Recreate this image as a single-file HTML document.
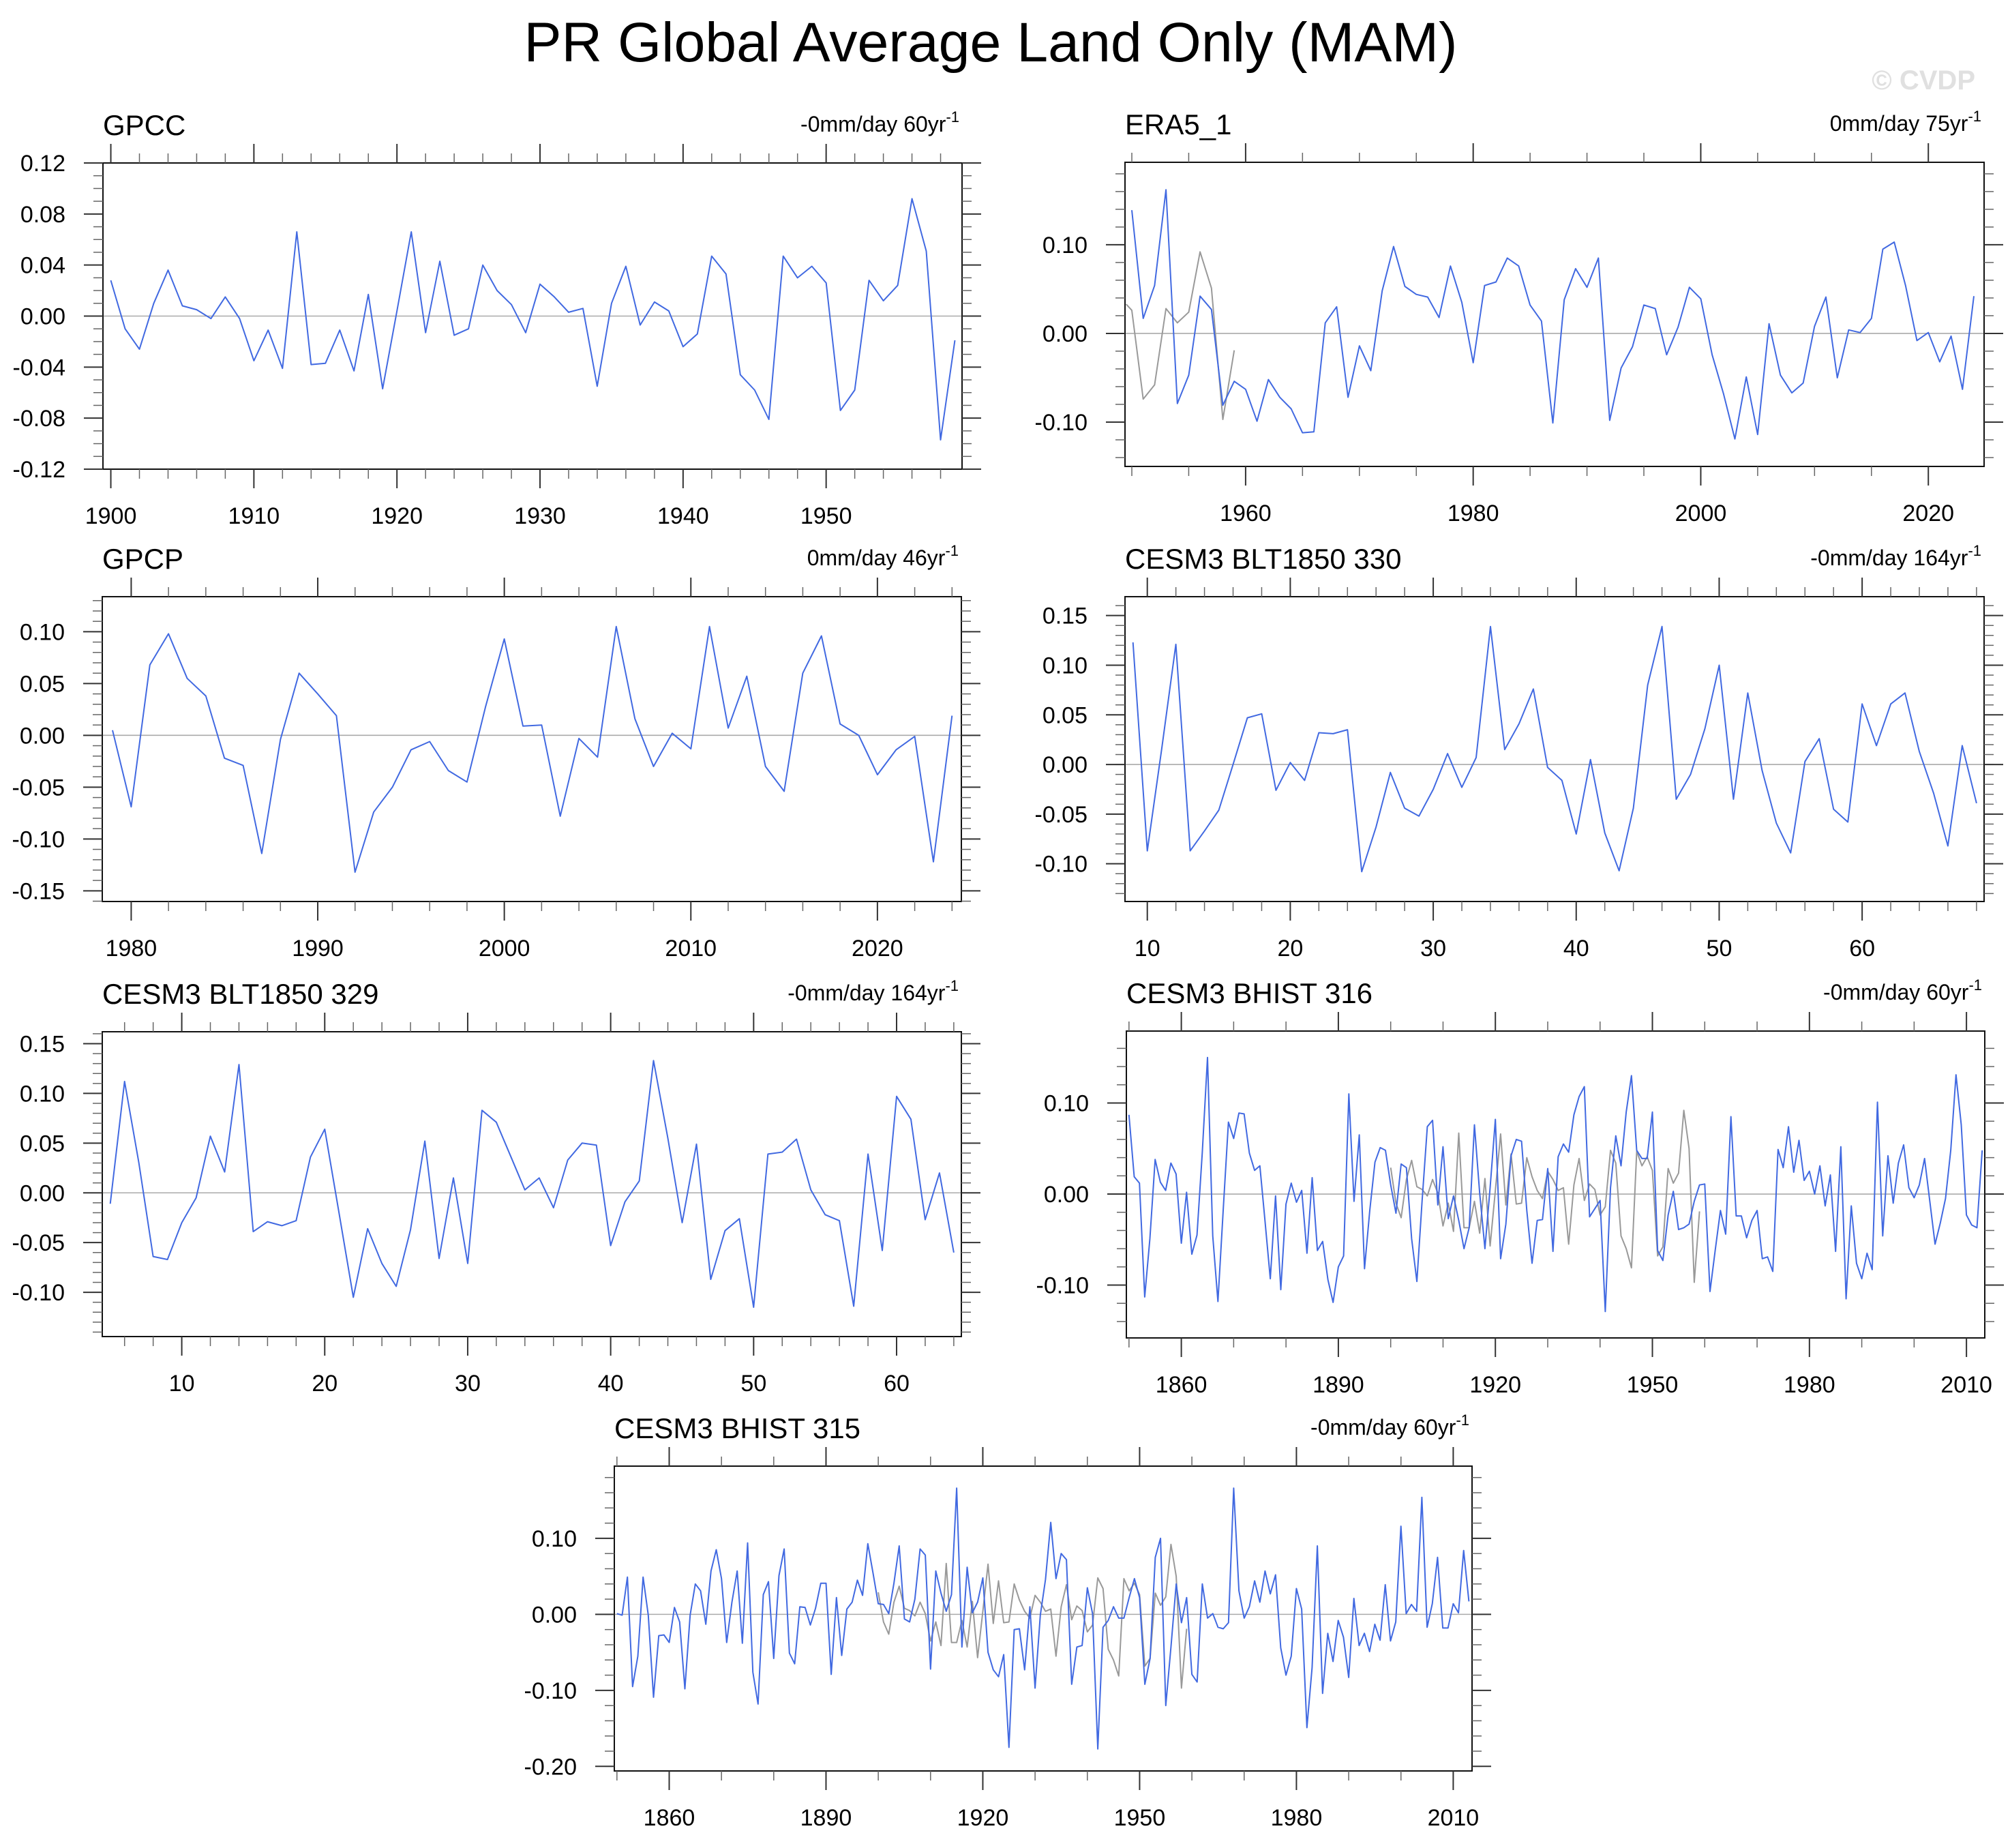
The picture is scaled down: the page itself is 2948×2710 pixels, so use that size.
<!DOCTYPE html>
<html><head><meta charset="utf-8"><style>
html,body{margin:0;padding:0;background:#fff;}
svg{display:block;font-family:"Liberation Sans",Arial,sans-serif;}
</style></head><body>
<svg id="fig" xmlns="http://www.w3.org/2000/svg" width="2948" height="2710" viewBox="0 0 2948 2710">
<rect x="0" y="0" width="2948" height="2710" fill="#fff"/>
<text x="1453" y="90" font-size="82" text-anchor="middle" textLength="1369" lengthAdjust="spacingAndGlyphs">PR Global Average Land Only (MAM)</text>
<text x="2897" y="131" font-size="40" font-weight="bold" fill="#e0e0e0" text-anchor="end">© CVDP</text>
</svg>
<script>
// ---- data ----
const gpccStart = 1900;
const gpccValues = [0.028,-0.010,-0.026,0.010,0.036,0.008,0.005,-0.002,0.015,-0.002,-0.035,-0.011,-0.041,0.066,-0.038,-0.037,-0.011,-0.043,0.017,-0.057,0.004,0.066,-0.013,0.043,-0.015,-0.010,0.040,0.020,0.009,-0.013,0.025,0.015,0.003,0.006,-0.055,0.010,0.039,-0.007,0.011,0.004,-0.024,-0.014,0.047,0.033,-0.046,-0.058,-0.081,0.047,0.030,0.039,0.026,-0.074,-0.058,0.028,0.012,0.024,0.092,0.051,-0.097,-0.019];
const era5Start = 1950;
const era5Values = [0.139,0.017,0.054,0.162,-0.079,-0.047,0.042,0.027,-0.081,-0.054,-0.063,-0.099,-0.052,-0.072,-0.085,-0.112,-0.111,0.012,0.030,-0.072,-0.014,-0.042,0.048,0.098,0.053,0.044,0.041,0.018,0.076,0.035,-0.033,0.054,0.058,0.085,0.076,0.032,0.014,-0.101,0.038,0.073,0.052,0.085,-0.098,-0.039,-0.015,0.032,0.028,-0.024,0.007,0.052,0.039,-0.024,-0.068,-0.119,-0.049,-0.114,0.011,-0.047,-0.067,-0.056,0.008,0.041,-0.050,0.004,0.001,0.017,0.095,0.103,0.054,-0.008,0.001,-0.032,-0.003,-0.063,0.042];
const era5GrayYears = [1949.5,1950,1951,1952,1953,1954,1955,1956,1957,1958,1959];
const era5GrayValues = [0.033,0.026,-0.074,-0.058,0.028,0.012,0.024,0.092,0.051,-0.097,-0.019];
const gpcpStart = 1979;
const gpcpValues = [0.005,-0.069,0.068,0.098,0.055,0.038,-0.022,-0.029,-0.114,-0.004,0.060,0.040,0.019,-0.132,-0.074,-0.050,-0.014,-0.006,-0.034,-0.045,0.028,0.093,0.009,0.010,-0.078,-0.003,-0.021,0.105,0.016,-0.030,0.002,-0.013,0.105,0.007,0.057,-0.030,-0.054,0.060,0.096,0.011,0.000,-0.038,-0.014,-0.001,-0.122,0.019];
const blt330Start = 9;
const blt330Values = [0.123,-0.087,0.015,0.121,-0.087,-0.067,-0.046,0.000,0.047,0.051,-0.026,0.002,-0.016,0.032,0.031,0.035,-0.108,-0.063,-0.008,-0.044,-0.052,-0.025,0.011,-0.023,0.007,0.139,0.015,0.041,0.076,-0.003,-0.016,-0.070,0.005,-0.069,-0.107,-0.044,0.080,0.139,-0.035,-0.010,0.036,0.100,-0.035,0.072,-0.006,-0.059,-0.089,0.003,0.026,-0.045,-0.058,0.061,0.019,0.061,0.072,0.013,-0.029,-0.082,0.019,-0.039];
const blt329Start = 5;
const blt329Values = [-0.011,0.112,0.030,-0.064,-0.067,-0.030,-0.005,0.057,0.021,0.129,-0.039,-0.029,-0.033,-0.028,0.036,0.064,-0.020,-0.105,-0.036,-0.071,-0.094,-0.037,0.052,-0.066,0.015,-0.071,0.083,0.071,0.037,0.003,0.015,-0.015,0.033,0.050,0.048,-0.053,-0.009,0.012,0.133,0.055,-0.030,0.049,-0.087,-0.038,-0.026,-0.115,0.039,0.041,0.054,0.003,-0.022,-0.028,-0.114,0.039,-0.058,0.097,0.074,-0.027,0.020,-0.060];
const bhist316Start = 1850;
const bhist316Values = [0.087,0.019,0.012,-0.113,-0.049,0.038,0.013,0.004,0.034,0.022,-0.054,0.002,-0.066,-0.045,0.045,0.150,-0.046,-0.118,-0.018,0.079,0.061,0.089,0.088,0.045,0.026,0.031,-0.030,-0.093,-0.002,-0.105,-0.011,0.012,-0.009,0.004,-0.065,0.018,-0.062,-0.052,-0.094,-0.119,-0.080,-0.068,0.110,-0.008,0.065,-0.082,-0.018,0.035,0.051,0.048,0.010,-0.021,0.033,0.029,-0.049,-0.096,-0.008,0.074,0.081,-0.012,0.052,-0.027,-0.002,-0.029,-0.060,-0.037,0.076,0.001,-0.060,0.007,0.082,-0.071,-0.033,0.042,0.060,0.058,-0.018,-0.076,-0.029,-0.028,0.028,-0.063,0.041,0.055,0.046,0.087,0.107,0.118,-0.025,-0.016,-0.007,-0.129,0.007,0.064,0.031,0.090,0.130,0.048,0.039,0.039,0.090,-0.062,-0.073,-0.023,0.003,-0.039,-0.037,-0.033,-0.008,0.010,0.011,-0.107,-0.062,-0.018,-0.044,0.085,-0.024,-0.024,-0.048,-0.029,-0.018,-0.071,-0.069,-0.085,0.049,0.029,0.074,0.024,0.059,0.015,0.025,0.000,0.031,-0.013,0.021,-0.063,0.052,-0.115,-0.013,-0.076,-0.093,-0.065,-0.083,0.101,-0.046,0.042,-0.010,0.034,0.054,0.007,-0.004,0.010,0.039,-0.008,-0.055,-0.032,-0.005,0.048,0.131,0.076,-0.023,-0.034,-0.037,0.048];
const bhist315Start = 1850;
const bhist315Values = [0.001,-0.001,0.049,-0.095,-0.055,0.049,-0.001,-0.109,-0.028,-0.027,-0.037,0.009,-0.010,-0.098,-0.001,0.040,0.031,-0.013,0.057,0.085,0.047,-0.037,0.016,0.057,-0.038,0.094,-0.076,-0.118,0.026,0.043,-0.058,0.051,0.086,-0.051,-0.065,0.010,0.009,-0.014,0.008,0.041,0.041,-0.079,0.022,-0.054,0.007,0.016,0.045,0.025,0.093,0.054,0.014,0.013,0.001,0.041,0.090,-0.006,-0.010,0.020,0.086,0.078,-0.072,0.057,0.028,0.004,0.026,0.166,-0.043,0.062,0.002,0.016,0.048,-0.050,-0.073,-0.082,-0.053,-0.175,-0.020,-0.019,-0.073,0.010,-0.097,-0.001,0.046,0.121,0.047,0.080,0.072,-0.092,-0.043,-0.041,0.035,0.001,-0.177,-0.017,-0.008,0.010,-0.005,-0.005,0.022,0.047,0.022,-0.092,-0.058,0.075,0.100,-0.120,-0.043,0.040,-0.011,0.022,-0.079,-0.089,0.040,-0.005,0.001,-0.017,-0.019,-0.011,0.166,0.031,-0.005,0.010,0.044,0.016,0.057,0.027,0.052,-0.044,-0.080,-0.055,0.034,0.007,-0.149,-0.070,0.090,-0.104,-0.025,-0.062,-0.008,-0.030,-0.083,0.021,-0.041,-0.025,-0.049,-0.013,-0.034,0.039,-0.035,-0.010,0.116,0.001,0.013,0.004,0.154,-0.017,0.014,0.075,-0.018,-0.018,0.014,0.002,0.084,0.017];
const obsGrayStart = 1900;
const obsGrayValues = [0.029,-0.010,-0.026,0.016,0.037,0.008,0.005,-0.002,0.016,0.001,-0.035,-0.010,-0.041,0.067,-0.037,-0.037,-0.008,-0.043,0.017,-0.057,0.004,0.066,-0.012,0.044,-0.011,-0.010,0.040,0.019,0.004,-0.005,0.025,0.016,0.004,0.007,-0.055,0.010,0.039,-0.007,0.011,0.005,-0.023,-0.014,0.048,0.034,-0.046,-0.060,-0.081,0.047,0.031,0.041,0.026,-0.068,-0.058,0.028,0.012,0.023,0.092,0.050,-0.097,-0.019];

const NS = 'http://www.w3.org/2000/svg';
const svg = document.getElementById('fig');
function el(tag, attrs, parent){const e=document.createElementNS(NS,tag);for(const k in attrs)e.setAttribute(k,attrs[k]);(parent||svg).appendChild(e);return e;}
function seq(a,b,s){const r=[];for(let v=a;v<=b+1e-9;v+=s)r.push(Math.round(v*1000)/1000);return r;}
function yrs(start,n){const r=[];for(let i=0;i<n;i++)r.push(start+i);return r;}

function panel(c){
  const g=el('g',{});
  
  
  const X=v=>c.L+(v-c.x0)/(c.x1-c.x0)*(c.R-c.L);
  const Y=v=>c.T+(c.y1-v)/(c.y1-c.y0)*(c.B-c.T);
  // zero line
  const z=el('line',{x1:c.L,x2:c.R,y1:Y(0),y2:Y(0),stroke:'#aaa','stroke-width':1.6},g);
  
  
  // series
  (c.series||[]).forEach(s=>{
    const pts=s.x.map((xv,i)=>X(xv).toFixed(1)+','+Y(s.y[i]).toFixed(1)).join(' ');
    const p=el('polyline',{points:pts,fill:'none',stroke:s.color,'stroke-width':s.w,'stroke-linejoin':'round'},g);
    
    
  });
  // frame
  const f=el('rect',{x:c.L,y:c.T,width:c.R-c.L,height:c.B-c.T,fill:'none',stroke:'#111','stroke-width':2},g);
  
  
  // y ticks
  c.yMinor.forEach(v=>{if(v<c.y0||v>c.y1)return;const y=Y(v);
    el('line',{x1:c.L-14,x2:c.L,y1:y,y2:y,stroke:'#666','stroke-width':1.5},g);
    el('line',{x1:c.R,x2:c.R+14,y1:y,y2:y,stroke:'#666','stroke-width':1.5},g);});
  c.yMajor.forEach(v=>{const y=Y(v);
    el('line',{x1:c.L-28,x2:c.L,y1:y,y2:y,stroke:'#333','stroke-width':2},g);
    el('line',{x1:c.R,x2:c.R+28,y1:y,y2:y,stroke:'#333','stroke-width':2},g);
    const t=el('text',{x:c.L-55,y:y+12,'font-size':34,'text-anchor':'end'},g);
    t.textContent=v.toFixed(2);
    
    });
  // x ticks
  c.xMinor.forEach(v=>{if(v<c.x0||v>c.x1)return;const x=X(v);
    el('line',{x1:x,x2:x,y1:c.T-14,y2:c.T,stroke:'#666','stroke-width':1.5},g);
    el('line',{x1:x,x2:x,y1:c.B,y2:c.B+14,stroke:'#666','stroke-width':1.5},g);});
  c.xMajor.forEach(v=>{const x=X(v);
    el('line',{x1:x,x2:x,y1:c.T-28,y2:c.T,stroke:'#333','stroke-width':2},g);
    el('line',{x1:x,x2:x,y1:c.B,y2:c.B+28,stroke:'#333','stroke-width':2},g);
    const t=el('text',{x:x,y:c.B+80,'font-size':34,'text-anchor':'middle'},g);
    t.textContent=String(v);
    
    });
  // titles
  const lt=el('text',{x:c.L,y:c.T-41,'font-size':42},g);
  lt.textContent=c.title;
  
  
  const rt=el('text',{x:c.R-4,y:c.T-46,'font-size':32,'text-anchor':'end'},g);
  
  
  const t1=el('tspan',{},rt);t1.textContent=c.trend;
  const t2=el('tspan',{dy:-14,'font-size':22},rt);t2.textContent='-1';
}

const blue='#4169e1', gray='#999';
panel({name:'gpcc',title:'GPCC',trend:'-0mm/day 60yr',L:151,R:1411,T:239,B:688,x0:1899.45,x1:1959.5,y0:-0.12,y1:0.12,
  yMajor:seq(-0.12,0.12,0.04),yMinor:seq(-0.12,0.12,0.01),xMajor:seq(1900,1950,10),xMinor:seq(1900,1958,2),
  series:[{label:'gpcc-line',x:yrs(gpccStart,gpccValues.length),y:gpccValues,color:blue,w:2}]});
panel({name:'era5',title:'ERA5_1',trend:'0mm/day 75yr',L:1650,R:2910,T:238,B:684,x0:1949.4,x1:2024.9,y0:-0.150,y1:0.193,
  yMajor:[-0.1,0,0.1],yMinor:seq(-0.14,0.18,0.02),xMajor:seq(1960,2020,20),xMinor:seq(1950,2020,5),
  series:[{label:'era5-gray-line',x:era5GrayYears,y:era5GrayValues,color:gray,w:2},{label:'era5-line',x:yrs(era5Start,era5Values.length),y:era5Values,color:blue,w:2}]});
panel({name:'gpcp',title:'GPCP',trend:'0mm/day 46yr',L:150,R:1410,T:875,B:1322,x0:1978.45,x1:2024.5,y0:-0.1603,y1:0.1338,
  yMajor:seq(-0.15,0.10,0.05),yMinor:seq(-0.16,0.13,0.01),xMajor:seq(1980,2020,10),xMinor:seq(1980,2024,2),
  series:[{label:'gpcp-line',x:yrs(gpcpStart,gpcpValues.length),y:gpcpValues,color:blue,w:2}]});
panel({name:'blt1850-330',title:'CESM3 BLT1850 330',trend:'-0mm/day 164yr',L:1650,R:2910,T:875,B:1322,x0:8.44,x1:68.53,y0:-0.138,y1:0.169,
  yMajor:seq(-0.10,0.15,0.05),yMinor:seq(-0.13,0.16,0.01),xMajor:seq(10,60,10),xMinor:seq(10,68,2),
  series:[{label:'blt1850-330-line',x:yrs(blt330Start,blt330Values.length),y:blt330Values,color:blue,w:2}]});
panel({name:'blt1850-329',title:'CESM3 BLT1850 329',trend:'-0mm/day 164yr',L:150,R:1410,T:1513,B:1960,x0:4.44,x1:64.53,y0:-0.1445,y1:0.162,
  yMajor:seq(-0.10,0.15,0.05),yMinor:seq(-0.14,0.16,0.01),xMajor:seq(10,60,10),xMinor:seq(6,64,2),
  series:[{label:'blt1850-329-line',x:yrs(blt329Start,blt329Values.length),y:blt329Values,color:blue,w:2}]});
panel({name:'bhist-316',title:'CESM3 BHIST 316',trend:'-0mm/day 60yr',L:1652,R:2911,T:1512,B:1962,x0:1849.5,x1:2013.5,y0:-0.158,y1:0.179,
  yMajor:[-0.1,0,0.1],yMinor:seq(-0.14,0.16,0.02),xMajor:seq(1860,2010,30),xMinor:seq(1850,2010,10),
  series:[{label:'bhist-316-gray-line',x:yrs(obsGrayStart,obsGrayValues.length),y:obsGrayValues,color:gray,w:2},{label:'bhist-316-line',x:yrs(bhist316Start,bhist316Values.length),y:bhist316Values,color:blue,w:2}]});
panel({name:'bhist-315',title:'CESM3 BHIST 315',trend:'-0mm/day 60yr',L:901,R:2159,T:2150,B:2597,x0:1849.5,x1:2013.6,y0:-0.206,y1:0.195,
  yMajor:[-0.2,-0.1,0,0.1],yMinor:seq(-0.2,0.18,0.02),xMajor:seq(1860,2010,30),xMinor:seq(1850,2010,10),
  series:[{label:'bhist-315-gray-line',x:yrs(obsGrayStart,obsGrayValues.length),y:obsGrayValues,color:gray,w:2},{label:'bhist-315-line',x:yrs(bhist315Start,bhist315Values.length),y:bhist315Values,color:blue,w:2}]});
</script>
</body></html>
